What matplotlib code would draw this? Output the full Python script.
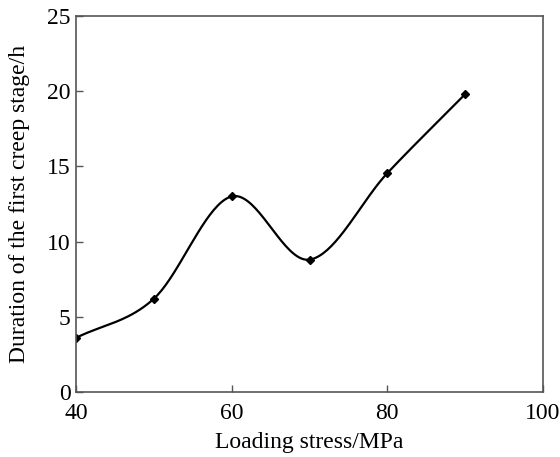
import numpy as np
import matplotlib.pyplot as plt

plt.rcParams['font.family'] = ['Liberation Serif', 'DejaVu Serif']

stress = [40, 50, 60, 70, 80, 90]
duration = [3.6, 6.2, 13.0, 8.8, 14.55, 19.8]


def smooth_curve(x, y, n=40):
    # cubic Hermite with Catmull-Rom tangents
    x = np.asarray(x, float)
    y = np.asarray(y, float)
    t = np.empty_like(y)
    t[1:-1] = (y[2:] - y[:-2]) / (x[2:] - x[:-2])
    t[0] = (y[1] - y[0]) / (x[1] - x[0])
    t[-1] = (y[-1] - y[-2]) / (x[-1] - x[-2])
    xs_all, ys_all = [], []
    for i in range(len(x) - 1):
        h = x[i + 1] - x[i]
        s = np.linspace(0, 1, n)
        h00 = 2 * s**3 - 3 * s**2 + 1
        h10 = s**3 - 2 * s**2 + s
        h01 = -2 * s**3 + 3 * s**2
        h11 = s**3 - s**2
        ys = h00 * y[i] + h10 * h * t[i] + h01 * y[i + 1] + h11 * h * t[i + 1]
        xs_all.append(x[i] + s * h)
        ys_all.append(ys)
    return np.concatenate(xs_all), np.concatenate(ys_all)


fig = plt.figure(figsize=(5.6, 4.57), dpi=100)
ax = fig.add_axes([0.1357, 0.1422, 0.834, 0.823])

xs, ys = smooth_curve(stress, duration)
ax.plot(xs, ys, color='black', linewidth=1.6)
ax.plot(stress, duration, linestyle='none', marker='D', markersize=4, color='black')

ax.set_xlim(40, 100)
ax.set_ylim(0, 25)
ax.set_xticks([40, 60, 80, 100])
ax.set_yticks([0, 5, 10, 15, 20, 25])
ax.tick_params(direction='in', length=5, width=1, color='#555555', labelsize=17)
ax.tick_params(axis='x', pad=8)
ax.tick_params(axis='y', pad=4)
for s in ax.spines.values():
    s.set_color('#555555')
    s.set_linewidth(1.2)

ax.set_xlabel('Loading stress/MPa', fontsize=17, labelpad=6)
ax.set_ylabel('Duration of the first creep stage/h', fontsize=17, labelpad=12)

fig.savefig('out.png', dpi=100)
